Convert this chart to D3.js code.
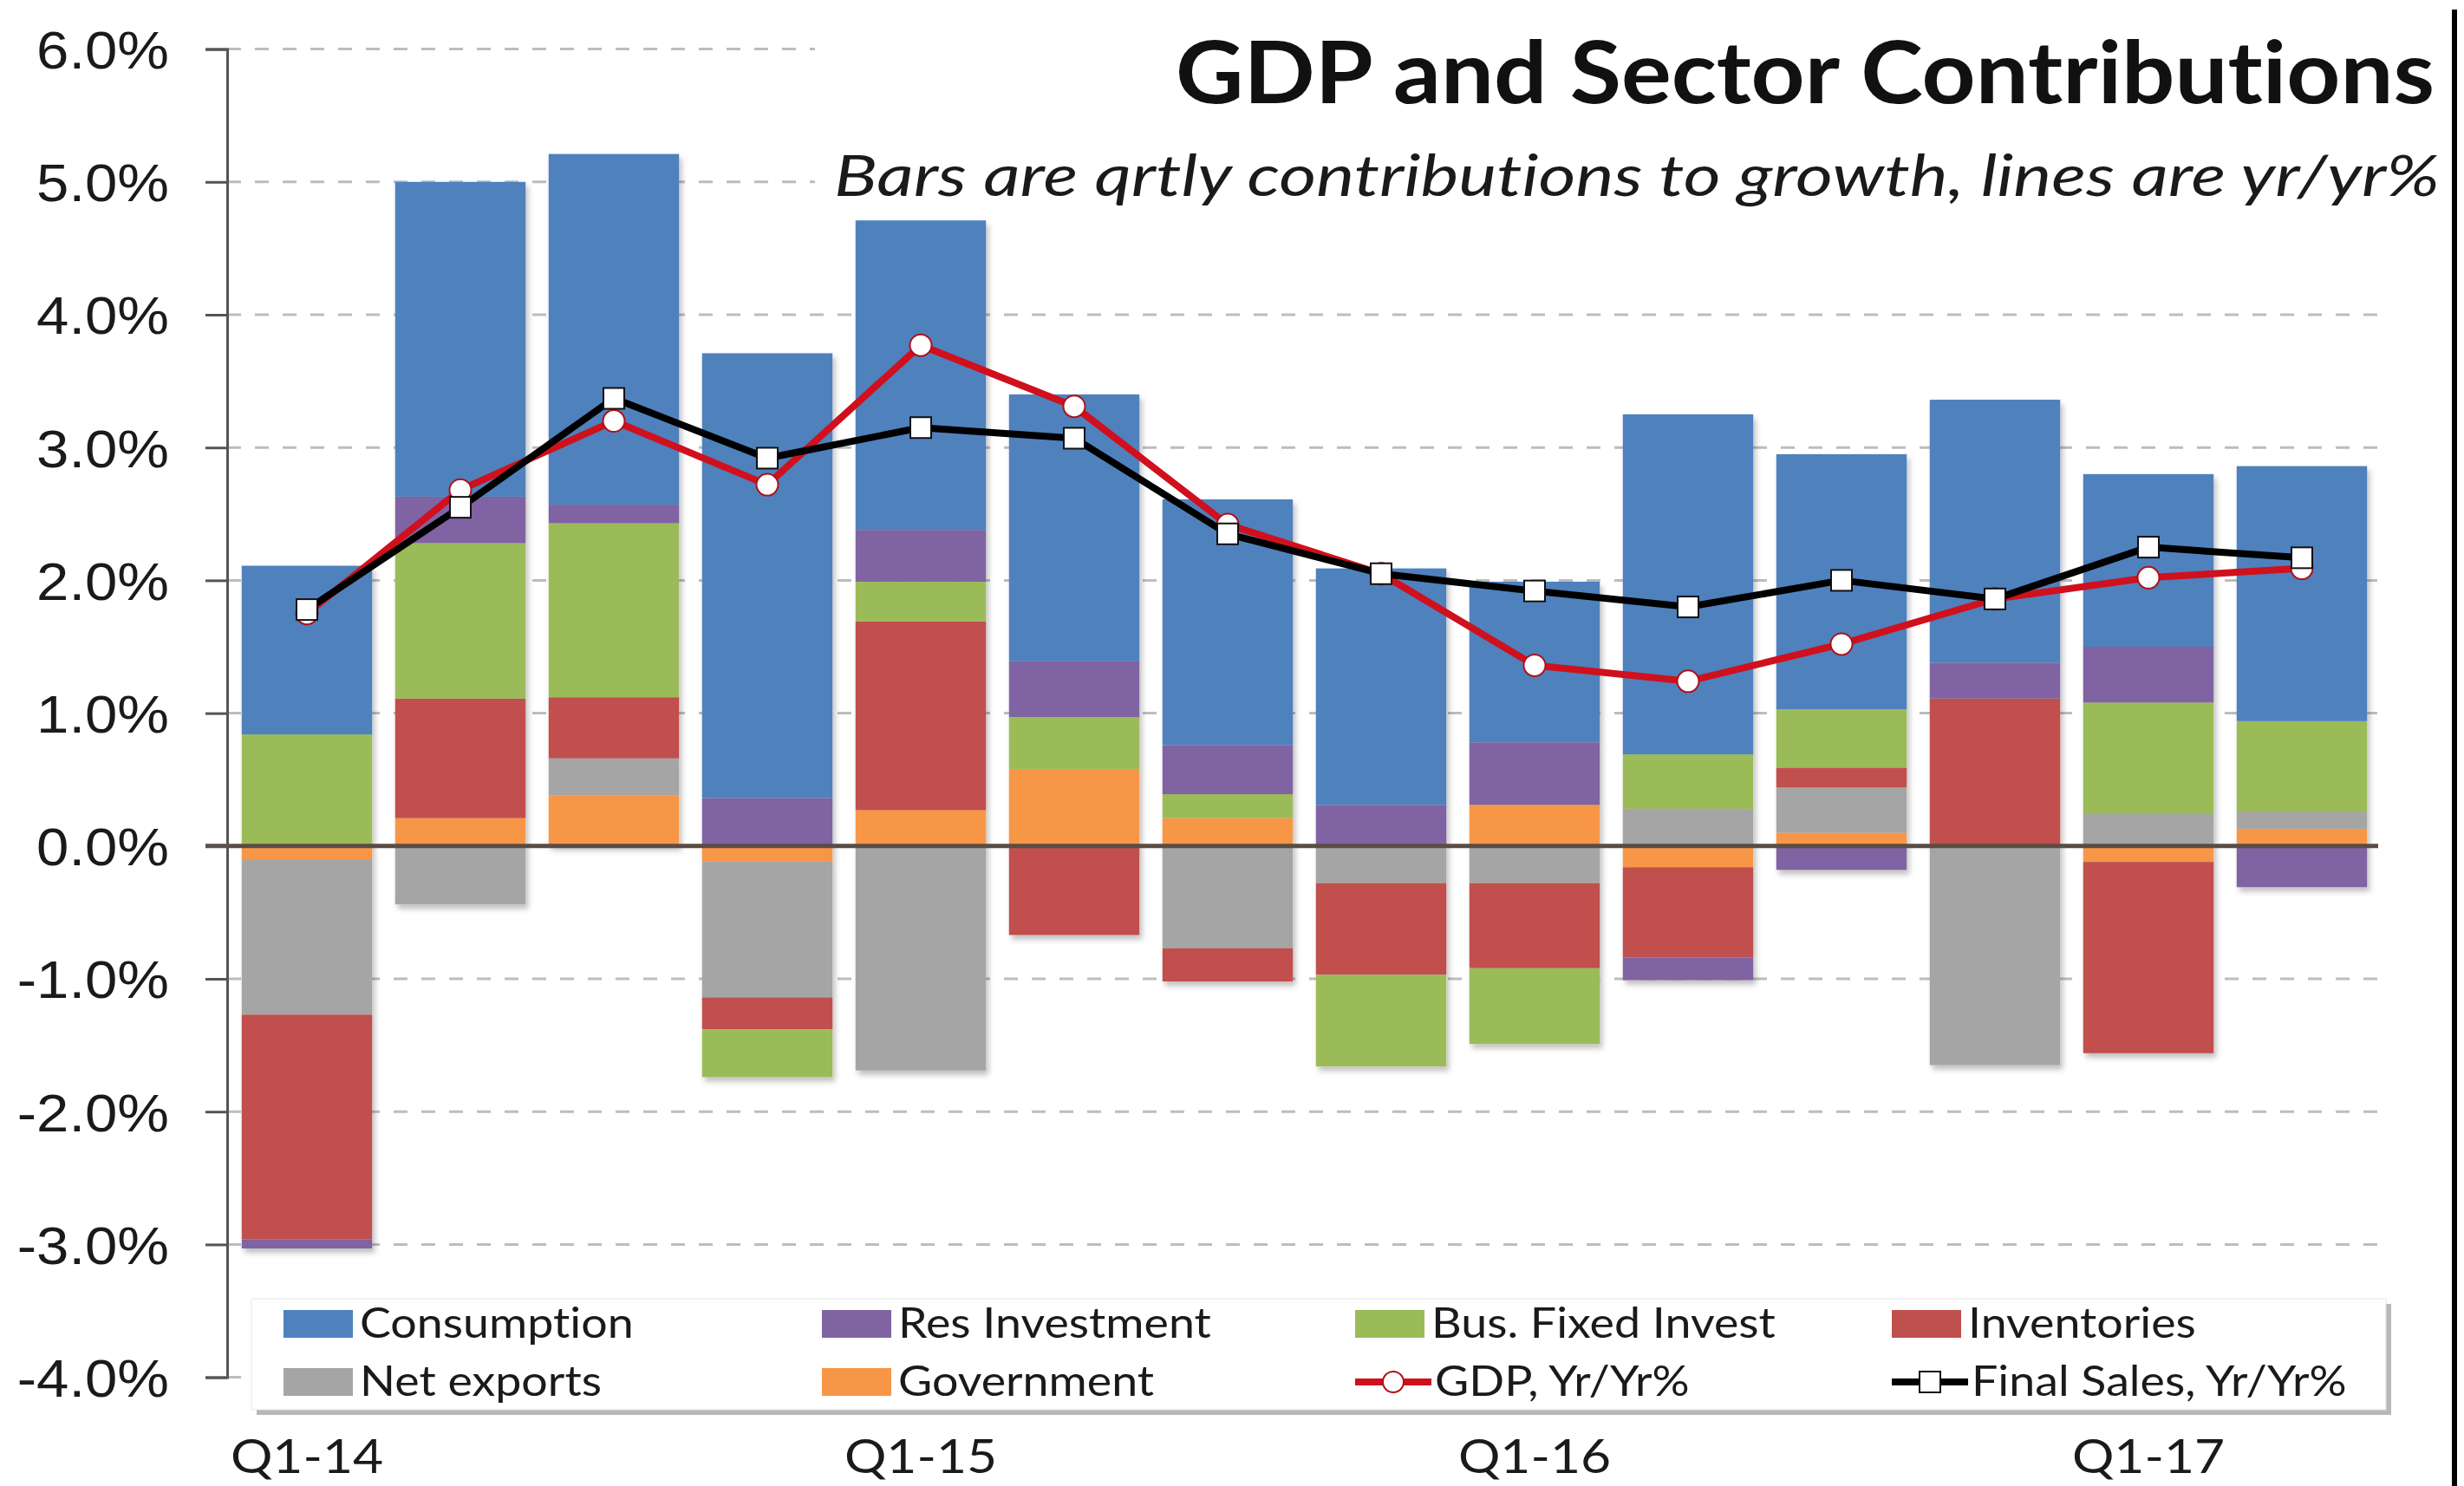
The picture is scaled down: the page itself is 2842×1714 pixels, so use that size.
<!DOCTYPE html>
<html>
<head>
<meta charset="utf-8">
<script src="https://cdn.jsdelivr.net/npm/d3@7"></script>
<style>
  body { margin: 0; background: #fff; }
  svg { display: block; font-family: Lato, "Open Sans", sans-serif; font-variant-ligatures: none; }
</style>
</head>
<body>
<svg id="drawing_region"></svg>
<script>
// quarterly contributions to GDP growth (percentage points)
const quarters = ["Q1-14","Q2-14","Q3-14","Q4-14","Q1-15","Q2-15","Q3-15","Q4-15",
                  "Q1-16","Q2-16","Q3-16","Q4-16","Q1-17","Q2-17"];
const tickQuarters = ["Q1-14","Q1-15","Q1-16","Q1-17"];
const yTicks = [6, 5, 4, 3, 2, 1, 0, -1, -2, -3, -4];

const consumption   = [1.27, 2.37, 2.64, 3.35, 2.33, 2.01, 1.85, 1.78, 1.21, 2.56, 1.92, 1.98, 1.30, 1.92];
const resInvestment = [-0.07, 0.35, 0.14, 0.36, 0.39, 0.42, 0.37, 0.31, 0.47, -0.17, -0.18, 0.27, 0.42, -0.31];
const busFixed      = [0.84, 1.17, 1.31, -0.36, 0.30, 0.39, 0.18, -0.69, -0.57, 0.41, 0.44, 0.00, 0.84, 0.68];
const inventories   = [-1.69, 0.90, 0.46, -0.24, 1.42, -0.67, -0.25, -0.69, -0.64, -0.68, 0.15, 1.11, -1.44, 0.00];
const netExports    = [-1.17, -0.44, 0.28, -1.02, -1.69, 0.00, -0.77, -0.28, -0.28, 0.28, 0.34, -1.65, 0.24, 0.13];
const government    = [-0.10, 0.21, 0.38, -0.12, 0.27, 0.58, 0.21, 0.00, 0.31, -0.16, 0.10, 0.00, -0.12, 0.13];

// yr/yr lines
const gdpYoY        = [1.75, 2.68, 3.20, 2.72, 3.77, 3.31, 2.42, 2.05, 1.36, 1.24, 1.52, 1.86, 2.02, 2.09];
const finalSalesYoY = [1.78, 2.55, 3.37, 2.92, 3.15, 3.07, 2.35, 2.05, 1.92, 1.80, 2.00, 1.86, 2.25, 2.17];

// stacking order from zero outward
const sectors = [
    { key: "gov",  name: "Government",         color: "#F79646", values: government },
    { key: "net",  name: "Net exports",        color: "#A5A5A5", values: netExports },
    { key: "inv",  name: "Inventories",        color: "#C0504D", values: inventories },
    { key: "bfi",  name: "Bus. Fixed Invest",  color: "#9BBB59", values: busFixed },
    { key: "res",  name: "Res Investment",     color: "#8064A2", values: resInvestment },
    { key: "cons", name: "Consumption",        color: "#4F81BD", values: consumption }
];

const W = 2842, H = 1714;
const svg = d3.select('#drawing_region').attr('width', W).attr('height', H);

const x = d3.scaleBand()
    .domain(quarters)
    .range([265.5, 2743.5])
    .paddingInner(0.15)
    .paddingOuter(0.075);

const y = d3.scaleLinear()
    .domain([-4, 6])
    .range([1588.6, 56.6]);

const rows = quarters.map((q, i) => {
    const r = { q: q };
    sectors.forEach(s => { r[s.key] = s.values[i]; });
    return r;
});

const stacked = d3.stack()
    .keys(sectors.map(s => s.key))
    .offset(d3.stackOffsetDiverging)(rows);

const defs = svg.append('defs');
const shadow = defs.append('filter').attr('id', 'shadow')
    .attr('x', '-10%').attr('y', '-10%').attr('width', '130%').attr('height', '130%');
shadow.append('feDropShadow').attr('dx', 3).attr('dy', 5).attr('stdDeviation', 3)
    .attr('flood-color', '#000').attr('flood-opacity', 0.25);

// gridlines
svg.append('g')
    .selectAll('line')
    .data(yTicks.filter(t => t !== 0))
    .join('line')
    .attr('x1', 262).attr('x2', 2743)
    .attr('y1', d => y(d)).attr('y2', d => y(d))
    .attr('stroke', '#bdbdbd')
    .attr('stroke-width', 3)
    .attr('stroke-dasharray', '16,16');

// bars
const barLayer = svg.append('g').attr('filter', 'url(#shadow)');
barLayer.selectAll('g')
    .data(stacked)
    .join('g')
    .attr('fill', (d, i) => sectors[i].color)
    .selectAll('rect')
    .data(d => d)
    .join('rect')
    .attr('x', d => x(d.data.q))
    .attr('width', x.bandwidth())
    .attr('y', d => y(Math.max(d[0], d[1])))
    .attr('height', d => Math.abs(y(d[0]) - y(d[1])));

// zero line
svg.append('line')
    .attr('x1', 237).attr('x2', 2743)
    .attr('y1', y(0)).attr('y2', y(0))
    .attr('stroke', '#5a4c44')
    .attr('stroke-width', 5);

// y axis
const yAxis = svg.append('g')
    .attr('transform', 'translate(262,0)')
    .call(d3.axisLeft(y).tickValues(yTicks).tickSize(25).tickPadding(0)
        .tickFormat(d => d3.format('.1f')(d) + '%'));
yAxis.select('.domain').attr('stroke', '#555').attr('stroke-width', 3);
yAxis.selectAll('.tick line').attr('stroke', '#555').attr('stroke-width', 3);
yAxis.selectAll('.tick text').remove();
yAxis.selectAll('.tick').append('text')
    .attr('transform', 'translate(-67,0) scale(1.1,1)')
    .attr('dy', '0.36em')
    .attr('text-anchor', 'end')
    .attr('fill', '#1a1a1a')
    .style('font-size', '61px')
    .text(d => (d < 0 ? '-' : '') + d3.format('.1f')(Math.abs(d)) + '%');

// lines
const lineGen = vals => d3.line()
    .x((d, i) => x(quarters[i]) + x.bandwidth() / 2)
    .y(d => y(d))(vals);

svg.append('path')
    .attr('d', lineGen(gdpYoY))
    .attr('fill', 'none')
    .attr('stroke', '#D0101C')
    .attr('stroke-width', 8)
    .attr('stroke-linejoin', 'round');
svg.append('g').selectAll('circle')
    .data(gdpYoY)
    .join('circle')
    .attr('cx', (d, i) => x(quarters[i]) + x.bandwidth() / 2)
    .attr('cy', d => y(d))
    .attr('r', 12.5)
    .attr('fill', '#fff')
    .attr('stroke', '#B01018')
    .attr('stroke-width', 2);

svg.append('path')
    .attr('d', lineGen(finalSalesYoY))
    .attr('fill', 'none')
    .attr('stroke', '#000')
    .attr('stroke-width', 8)
    .attr('stroke-linejoin', 'round');
svg.append('g').selectAll('rect')
    .data(finalSalesYoY)
    .join('rect')
    .attr('x', (d, i) => x(quarters[i]) + x.bandwidth() / 2 - 12)
    .attr('y', d => y(d) - 12)
    .attr('width', 24)
    .attr('height', 24)
    .attr('fill', '#fff')
    .attr('stroke', '#111')
    .attr('stroke-width', 2);

// x tick labels
svg.append('g')
    .selectAll('text')
    .data(tickQuarters)
    .join('text')
    .attr('transform', d => `translate(${x(d) + x.bandwidth() / 2},1699) scale(1.1,1)`)
    .attr('text-anchor', 'middle')
    .attr('fill', '#1a1a1a')
    .style('font-size', '55px')
    .text(d => d);

// title box
svg.append('rect')
    .attr('x', 940).attr('y', 0).attr('width', 1888).attr('height', 245)
    .attr('fill', '#fff');
svg.append('text')
    .attr('x', 2808).attr('y', 119)
    .attr('text-anchor', 'end')
    .attr('font-weight', 700)
    .attr('fill', '#111')
    .style('font-size', '100px')
    .attr('textLength', 1452)
    .attr('lengthAdjust', 'spacingAndGlyphs')
    .text('GDP and Sector Contributions');
svg.append('text')
    .attr('x', 2814).attr('y', 226)
    .attr('text-anchor', 'end')
    .attr('font-style', 'italic')
    .attr('fill', '#1a1a1a')
    .style('font-size', '66px')
    .attr('textLength', 1852)
    .attr('lengthAdjust', 'spacingAndGlyphs')
    .text('Bars are qrtly contributions to growth, lines are yr/yr%');

// legend
const legend = svg.append('g');
legend.append('rect')
    .attr('x', 296).attr('y', 1504).attr('width', 2462).attr('height', 128)
    .attr('fill', '#9a9a9a').attr('opacity', 0.7);
legend.append('rect')
    .attr('x', 290).attr('y', 1498).attr('width', 2462).attr('height', 128)
    .attr('fill', '#fff')
    .attr('stroke', '#e6e6e6').attr('stroke-width', 1);

const colX = [327, 948, 1563, 2182];
const rowY = [1527, 1594];
const legendItems = [
    { name: "Consumption",        type: "bar", color: "#4F81BD" },
    { name: "Res Investment",     type: "bar", color: "#8064A2" },
    { name: "Bus. Fixed Invest",  type: "bar", color: "#9BBB59" },
    { name: "Inventories",        type: "bar", color: "#C0504D" },
    { name: "Net exports",        type: "bar", color: "#A5A5A5" },
    { name: "Government",         type: "bar", color: "#F79646" },
    { name: "GDP, Yr/Yr%",        type: "circle", color: "#D0101C" },
    { name: "Final Sales, Yr/Yr%",type: "square", color: "#000" }
];

const li = legend.selectAll('g.item')
    .data(legendItems)
    .join('g')
    .attr('class', 'item')
    .attr('transform', (d, i) => `translate(${colX[i % 4]},${rowY[Math.floor(i / 4)]})`);

li.filter(d => d.type === 'bar').append('rect')
    .attr('x', 0).attr('y', -16).attr('width', 80).attr('height', 32)
    .attr('fill', d => d.color);
li.filter(d => d.type !== 'bar').append('line')
    .attr('x1', 0).attr('x2', 88).attr('y1', 0).attr('y2', 0)
    .attr('stroke', d => d.color).attr('stroke-width', 8);
li.filter(d => d.type === 'circle').append('circle')
    .attr('cx', 44).attr('cy', 0).attr('r', 12)
    .attr('fill', '#fff').attr('stroke', '#B01018').attr('stroke-width', 2);
li.filter(d => d.type === 'square').append('rect')
    .attr('x', 32).attr('y', -12).attr('width', 24).attr('height', 24)
    .attr('fill', '#fff').attr('stroke', '#111').attr('stroke-width', 2);
li.append('text')
    .attr('transform', d => `translate(${d.type === 'bar' ? 88 : 92},16) scale(1.12,1)`)
    .attr('fill', '#1a1a1a')
    .style('font-size', '48px')
    .text(d => d.name);

// right frame edge
svg.append('rect')
    .attr('x', 2828).attr('y', 11).attr('width', 6).attr('height', H - 11)
    .attr('fill', '#000');
</script>
</body>
</html>
